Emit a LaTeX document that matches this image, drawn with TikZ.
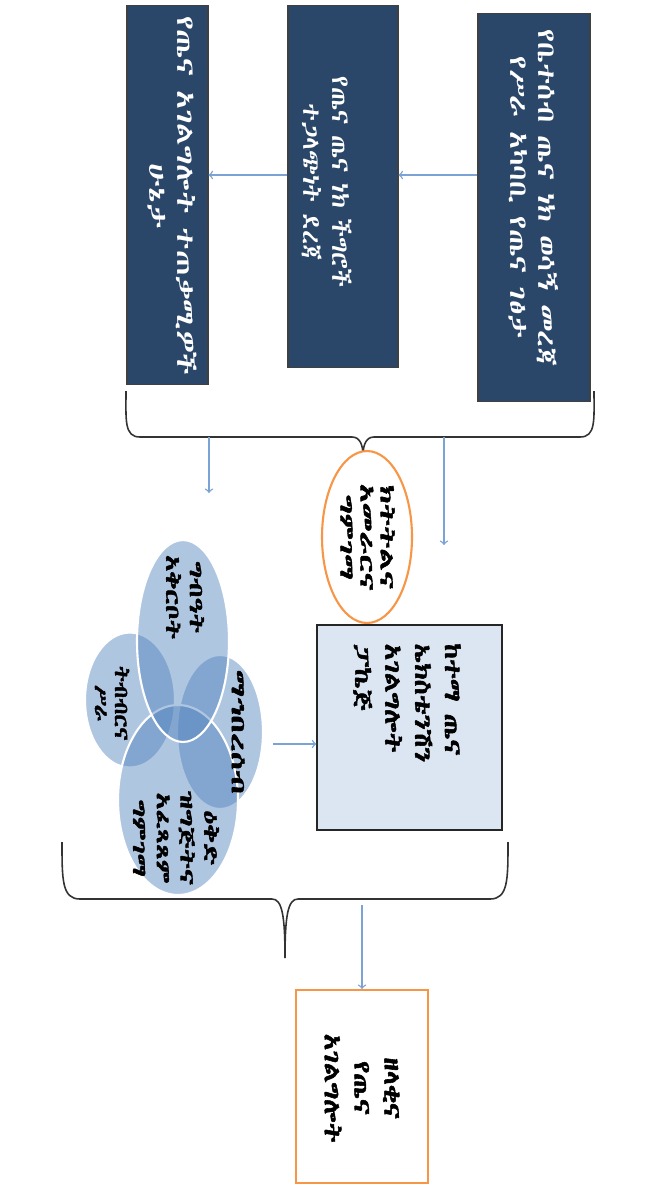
\documentclass[tikz,border=0pt]{standalone}
\usepackage{fontspec}
\usetikzlibrary{shapes.geometric}
\IfFontExistsTF{Abyssinica SIL}{\newfontfamily\ethfont[AutoFakeBold=2]{Abyssinica SIL}}{%
  \IfFontExistsTF{FreeSerif}{\newfontfamily\ethfont{FreeSerif}}{\newfontfamily\ethfont{DejaVu Sans}}}
\definecolor{navy}{HTML}{2A4769}
\definecolor{arrblue}{HTML}{7BA3D6}
\definecolor{orng}{HTML}{F79646}
\definecolor{pale}{HTML}{DCE6F2}
\definecolor{venn}{HTML}{4F81BD}
\tikzset{
  darkbox/.style={rectangle,draw=black!75,fill=navy,line width=0.6pt},
  wtext/.style={text=white,font=\ethfont\fontsize{14}{16}\selectfont,rotate=-90,align=center},
  btext/.style={text=black,font=\ethfont\bfseries\fontsize{13}{17}\selectfont,rotate=-90,align=center},
  vtext/.style={text=black,font=\ethfont\bfseries\fontsize{11}{13.5}\selectfont,rotate=-90,align=center},
  arr/.style={->,arrblue,line width=0.8pt},
  curly/.style={draw=black!80,line width=0.9pt},
  vennpart/.style={ellipse,fill=venn,fill opacity=0.45,draw=white,line width=1.2pt,inner sep=0pt},
}
\begin{document}
\begin{tikzpicture}[x=0.02cm,y=-0.02cm]
  \useasboundingbox[fill=white] (0,0) rectangle (662,1200);
  % top row of boxes
  \node[darkbox,minimum width=2.24cm,minimum height=7.78cm] (A) at (534,207.5) {};
  \node[darkbox,minimum width=2.2cm,minimum height=7.26cm] (B) at (343,186.5) {};
  \node[darkbox,minimum width=1.62cm,minimum height=7.6cm] (C) at (167.5,195) {};
  \node[wtext,xscale=1.19] (tA) at (534,198) {የቤተሰብ ጤና ነክ ወሳኝ መረጃ\\የሥራ አካባቢ የጤና ገፅታ};
  \node[wtext] (tB) at (327,182) {የጤና ጤና ነክ ችግሮች\\ተጋላጭነት ደረጃ};
  \node[wtext,xscale=1.26] (tC) at (172.5,196) {የጤና አገልግሎት ተጠቃሚዎች\\ሁኔታ};
  \coordinate (row) at (0,175);
  \draw[arr] (A.west |- row) -- (B.east |- row);
  \draw[arr] (B.west |- row) -- (C.east |- row);
  % first brace
  \draw[curly] (126,391) .. controls (126,420) and (124,437) .. (140,437) -- (352,437)
    .. controls (360,437) and (363,445) .. (363,456) .. controls (363,445) and (366,437) .. (374,437)
    -- (580,437) .. controls (596,437) and (594,420) .. (594,391);
  \coordinate (b1l) at (209,437);
  \coordinate (b1lend) at (209,493);
  \coordinate (b1r) at (444,437);
  \coordinate (b1rend) at (444,545);
  \draw[arr] (b1l) -- (b1lend);
  \draw[arr] (b1r) -- (b1rend);
  % middle
  \node[ellipse,draw=orng,line width=1.2pt,fill=white,minimum width=1.8cm,minimum height=3.44cm,inner sep=0pt] (E) at (367,537) {};
  \node[vtext,xscale=1.6,font=\ethfont\bfseries\fontsize{11}{11.4}\selectfont] (tE) at (367.5,537) {ክትትልና\\አመራርና\\ግምገማ};
  \node[rectangle,draw=black!85,fill=pale,line width=0.8pt,minimum width=3.7cm,minimum height=4.1cm] (L) at (409.5,727.5) {};
  \node[btext,xscale=1.2,align=left,anchor=west] (tL) at (407,636) {ከተማ ጤና\\ኤክስቴንሽን\\አገልግሎት\\ፓኬጅ};
  % overlapping circles
  \node[vennpart,minimum width=1.8cm,minimum height=2.7cm] (v2) at (130,700) {};
  \node[vennpart,minimum width=1.72cm,minimum height=3.08cm] (v3) at (220,732) {};
  \node[vennpart,minimum width=2.4cm,minimum height=3.8cm] (v4) at (178,800) {};
  \node[vennpart,minimum width=1.84cm,minimum height=4.04cm] (v1) at (183,641) {};
  \node[vtext,xscale=1.4] (tv1) at (185,597) {ግብዓት\\አቅርቦት};
  \node[vtext,xscale=1.15,font=\ethfont\bfseries\fontsize{11}{11.4}\selectfont] (tv2) at (112,703) {ትብብርና\\ሥራ};
  \node[vtext,xscale=1.7] (tv3) at (238,732) {ማኅበረሰብ};
  \node[vtext,xscale=1.45] (tv4) at (176,838) {ዕቅድ\\ዝግጅትና\\አፈጻጸም\\ግምገማ};
  \coordinate (vout) at (273,744);
  \draw[arr] (vout) -- (vout -| L.west);
  % second brace
  \draw[curly] (62,842) .. controls (62,880) and (62,899) .. (80,899) -- (272,899)
    .. controls (282,899) and (285,915) .. (285,958) .. controls (285,915) and (288,899) .. (298,899)
    -- (490,899) .. controls (508,899) and (508,880) .. (508,842);
  \coordinate (b2) at (362,905);
  \node[rectangle,draw=orng,line width=1.2pt,fill=white,minimum width=2.64cm,minimum height=3.86cm] (F) at (362,1086.5) {};
  \node[btext,xscale=1.2] (tF) at (362,1088) {ዘላቂና\\የጤና\\አገልግሎት};
  \draw[arr] (b2) -- (F.north);
\end{tikzpicture}
\end{document}
